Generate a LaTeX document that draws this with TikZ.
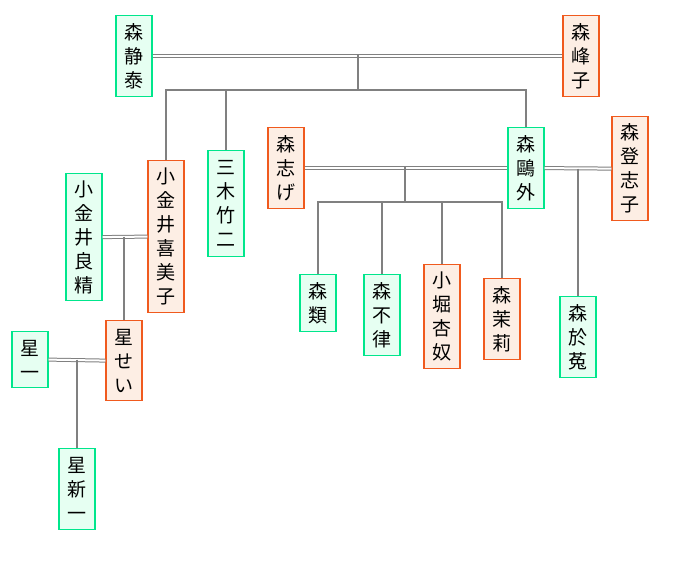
\documentclass[tikz,border=0pt]{standalone}
\usepackage{fontspec}
\newfontfamily\cjk{Noto Sans CJK JP}
\begin{document}
\begin{tikzpicture}[x=1pt,y=-1pt,
  base/.style={draw,line width=1.2pt,minimum width=36pt,inner sep=0pt,align=center,anchor=north,font=\cjk\fontsize{19}{24}\selectfont},
  m/.style={base,draw={rgb,255:red,0;green,230;blue,140},fill={rgb,255:red,230;green,255;blue,242}},
  f/.style={base,draw={rgb,255:red,240;green,90;blue,30},fill={rgb,255:red,253;green,238;blue,228}},
  ln/.style={draw=gray,line width=1.2pt},
  dbl/.style={draw=gray,line width=1pt,double=white,double distance=2pt}]
\useasboundingbox (0,0) rectangle (688,560);
\node[m,minimum height=81] (shizuyasu) at (134,15) {森\\静\\泰};
\node[f,minimum height=81] (mineko) at (581,15) {森\\峰\\子};
\node[f,minimum height=152] (kimiko) at (166,160) {小\\金\\井\\喜\\美\\子};
\node[m,minimum height=106] (takeji) at (226,150) {三\\木\\竹\\二};
\node[f,minimum height=81] (shige) at (286,127) {森\\志\\げ};
\node[m,minimum height=81] (ogai) at (526,127) {森\\鷗\\外};
\node[f,minimum height=104] (toshiko) at (630,116) {森\\登\\志\\子};
\node[m,minimum height=57] (rui) at (318,274) {森\\類};
\node[m,minimum height=81] (furitsu) at (382,274) {森\\不\\律};
\node[f,minimum height=104] (annu) at (442,264) {小\\堀\\杏\\奴};
\node[f,minimum height=81] (mari) at (502,278) {森\\茉\\莉};
\node[m,minimum height=81] (oto) at (578,296) {森\\於\\菟};
\node[m,minimum height=127] (yoshikiyo) at (84,173) {小\\金\\井\\良\\精};
\node[f,minimum height=80] (sei) at (124,320) {星\\せ\\い};
\node[m,minimum height=56] (hajime) at (30,331) {星\\一};
\node[m,minimum height=81] (shinichi) at (77,448) {星\\新\\一};

\draw[dbl] (shizuyasu.east) -- (mineko.west);
\coordinate (c1) at (358,55);
\draw[ln] (c1) -- (358,90) coordinate (b1);
\draw[ln] (kimiko.north) |- (b1) -| (ogai.north);
\draw[ln] (takeji.north) -- (takeji.north |- b1);

\draw[dbl] (shige.east) -- (ogai.west);
\coordinate (c2) at (405,167);
\draw[ln] (c2) -- (405,202) coordinate (b2);
\draw[ln] (rui.north) |- (b2) -| (mari.north);
\draw[ln] (furitsu.north) -- (furitsu.north |- b2);
\draw[ln] (annu.north) -- (annu.north |- b2);

\draw[dbl] (ogai.east) -- (toshiko.west);
\draw[ln] (oto.north |- toshiko.west) -- (oto.north);

\draw[dbl] (yoshikiyo.east) -- (kimiko.west);
\draw[ln] (sei.north |- kimiko.west) -- (sei.north);

\draw[dbl] (hajime.east) -- (sei.west);
\draw[ln] (shinichi.north |- hajime.east) -- (shinichi.north);
\end{tikzpicture}
\end{document}
